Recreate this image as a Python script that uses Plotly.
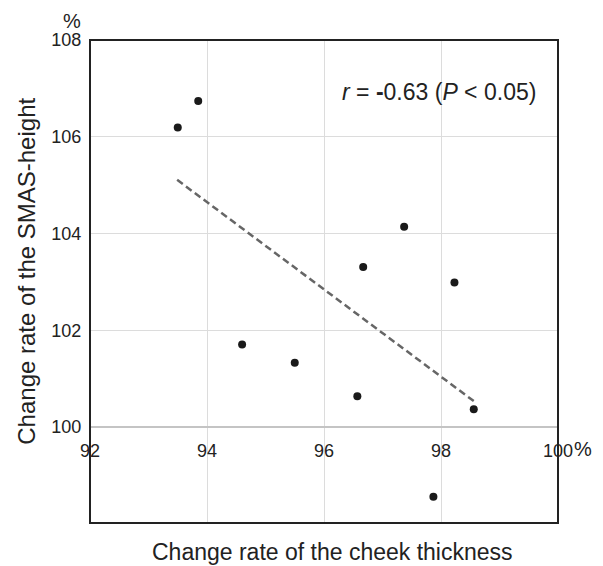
import plotly.graph_objects as go

# Data
cheek_thickness = [93.50, 93.85, 94.60, 95.50, 96.57, 96.67, 97.37, 97.87, 98.23, 98.56]
smas_height = [106.19, 106.74, 101.71, 101.33, 100.64, 103.31, 104.14, 98.56, 102.99, 100.37]
trend_x = [93.49, 98.57]
trend_y = [105.11, 100.53]
x_ticks = [92, 94, 96, 98, 100]
x_tick_labels = ["92", "94", "96", "98", "100"]
y_ticks = [100, 102, 104, 106, 108]
x_range = [92, 100]
y_range = [98.02, 108]

FONT = "Liberation Sans, Arial, Helvetica, sans-serif"
TXT = "#222222"

fig = go.Figure()
fig.add_trace(go.Scatter(
    x=trend_x, y=trend_y, mode="lines",
    line=dict(color="#666666", width=2.5, dash="7px,4px"),
    showlegend=False, hoverinfo="skip"))
fig.add_trace(go.Scatter(
    x=cheek_thickness, y=smas_height, mode="markers",
    marker=dict(color="#1a1a1a", size=8),
    showlegend=False))

pos = (100 - y_range[0]) / (y_range[1] - y_range[0])

# page body has an 8px margin, so the figure is sized/offset to compensate
fig.update_layout(
    width=595, height=558,
    margin=dict(l=81.7, r=45.3, t=32, b=42.7),
    paper_bgcolor="white", plot_bgcolor="white",
    font=dict(family=FONT, color=TXT, size=18),
    xaxis=dict(range=x_range, tickvals=x_ticks, ticktext=x_tick_labels,
               anchor="free", position=pos,
               showgrid=True, gridcolor="#dcdcdc", gridwidth=1,
               showline=True, linecolor="#c4c4c4", linewidth=1.5,
               ticks="outside", ticklen=7, tickcolor="rgba(0,0,0,0)",
               zeroline=False, tickfont=dict(size=18, color=TXT)),
    yaxis=dict(range=y_range, tickvals=y_ticks,
               showgrid=True, gridcolor="#dcdcdc", gridwidth=1,
               showline=False, zeroline=False,
               ticks="outside", ticklen=4, tickcolor="rgba(0,0,0,0)",
               tickfont=dict(size=18, color=TXT)),
    shapes=[dict(type="rect", xref="paper", yref="paper", x0=0, x1=1, y0=0, y1=1,
                 line=dict(color="#222222", width=2), layer="above")],
    annotations=[
        dict(text="<i>r</i> = <b>-</b>0.63 (<i>P</i> &lt; 0.05)", xref="paper", yref="paper",
             x=0.535, y=0.8924, xanchor="left", yanchor="middle", showarrow=False,
             font=dict(size=23, color=TXT)),
        dict(text="%", xref="paper", yref="paper", x=-0.0389, y=1.0393,
             xanchor="center", yanchor="middle", showarrow=False, font=dict(size=20, color=TXT)),
        dict(text="%", xref="paper", yref="paper", x=1.053, y=0.1537,
             xanchor="center", yanchor="middle", showarrow=False, font=dict(size=20, color=TXT)),
        dict(text="Change rate of the cheek thickness", xref="paper", yref="paper",
             x=0.5177, y=-0.0604, xanchor="center", yanchor="middle", showarrow=False,
             font=dict(size=23, color=TXT)),
        dict(text="Change rate of the SMAS-height", xref="paper", yref="paper",
             x=-0.136, y=0.521, xanchor="center", yanchor="middle", textangle=-90,
             showarrow=False, font=dict(size=24, color=TXT)),
    ],
)

fig.write_html("out.html")
